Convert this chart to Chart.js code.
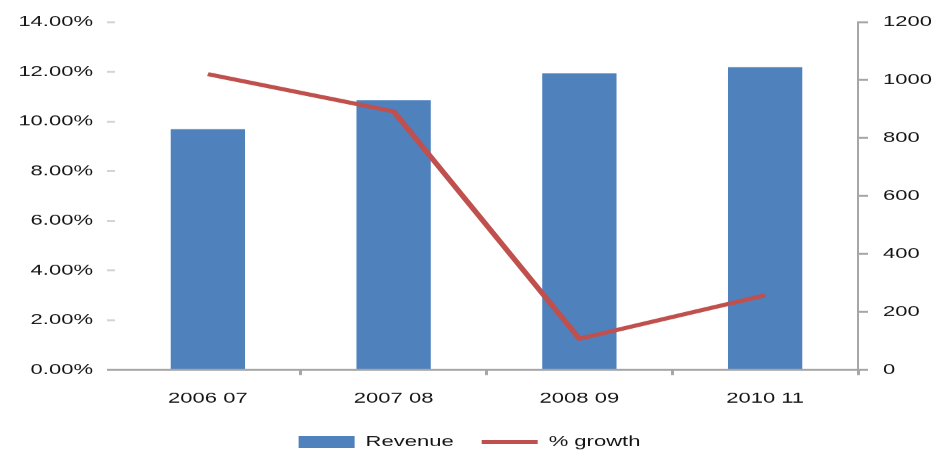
<!DOCTYPE html>
<html>
<head>
<meta charset="utf-8">
<script src="https://cdn.jsdelivr.net/npm/chart.js@4/dist/chart.umd.min.js"></script>
<style>
  html, body { margin: 0; padding: 0; background: #ffffff; }
  #wrap { width: 939px; height: 456px; overflow: hidden; position: relative; }
  /* Rendered tall, then compressed vertically to give the wide lettering */
  #c { display: block; transform: scaleY(0.66667); transform-origin: 0 0; }
</style>
</head>
<body>
<div id="wrap"><canvas id="c" width="939" height="684" style="width:939px;height:684px"></canvas></div>
<script>
const categories = ['2006 07', '2007 08', '2008 09', '2010 11'];
const revenue = [830, 930, 1023, 1044];
const growthPct = [11.9, 10.4, 1.25, 3.0];
const leftTicks = { min: 0, max: 14, step: 2 };
const rightTicks = { min: 0, max: 1200, step: 200 };

const FONT = { family: '"Liberation Sans", Arial, sans-serif', size: 22 };
const TEXT = '#141414';
const AXIS = '#a6a6a6';

new Chart(document.getElementById('c'), {
  data: {
    labels: categories,
    datasets: [
      {
        type: 'bar',
        label: 'Revenue',
        data: revenue,
        yAxisID: 'yR',
        backgroundColor: '#4F81BD',
        borderWidth: 0,
        barPercentage: 0.4,
        categoryPercentage: 1.0,
        pointStyle: 'rect',
        order: 1
      },
      {
        type: 'line',
        label: '% growth',
        data: growthPct,
        yAxisID: 'yL',
        borderColor: '#C0504D',
        backgroundColor: '#C0504D',
        borderWidth: 6,
        pointRadius: 0,
        tension: 0,
        pointStyle: 'line',
        order: 0
      }
    ]
  },
  options: {
    responsive: false,
    devicePixelRatio: 1,
    animation: false,
    layout: { padding: { top: 33, left: 0, right: 0, bottom: 0 } },
    plugins: {
      tooltip: { enabled: false },
      legend: {
        position: 'bottom',
        maxHeight: 63,
        labels: {
          usePointStyle: true,
          pointStyleWidth: 56,
          boxHeight: 18,
          padding: 28,
          font: FONT,
          color: TEXT,
          sort: (a, b) => a.datasetIndex - b.datasetIndex
        }
      }
    },
    scales: {
      x: {
        offset: true,
        afterFit: (s) => { s.height = s.height - 9; },
        grid: {
          display: true,
          drawOnChartArea: false,
          offset: true,
          tickLength: 8,
          lineWidth: 3,
          color: (ctx) => (ctx.index === 0 ? 'rgba(0,0,0,0)' : AXIS)
        },
        border: { display: true, color: AXIS, width: 3 },
        ticks: { padding: 22, font: FONT, color: TEXT, maxRotation: 0 }
      },
      yL: {
        position: 'left',
        min: leftTicks.min,
        max: leftTicks.max,
        afterFit: (s) => { s.width = 115; },
        grid: {
          drawOnChartArea: false,
          tickLength: 8,
          lineWidth: 3,
          color: (ctx) => (ctx.tick && ctx.tick.value === 0 ? AXIS : '#d4d4d4')
        },
        border: { display: false },
        ticks: {
          stepSize: leftTicks.step,
          padding: 14,
          font: FONT,
          color: TEXT,
          callback: (v) => Number(v).toFixed(2) + '%'
        }
      },
      yR: {
        position: 'right',
        min: rightTicks.min,
        max: rightTicks.max,
        afterFit: (s) => { s.width = 81; },
        grid: { drawOnChartArea: false, tickLength: 10, lineWidth: 3, color: AXIS },
        border: { display: true, color: AXIS, width: 2 },
        ticks: { stepSize: rightTicks.step, padding: 15, font: FONT, color: TEXT, callback: (v) => String(v) }
      }
    }
  }
});
</script>
</body>
</html>
